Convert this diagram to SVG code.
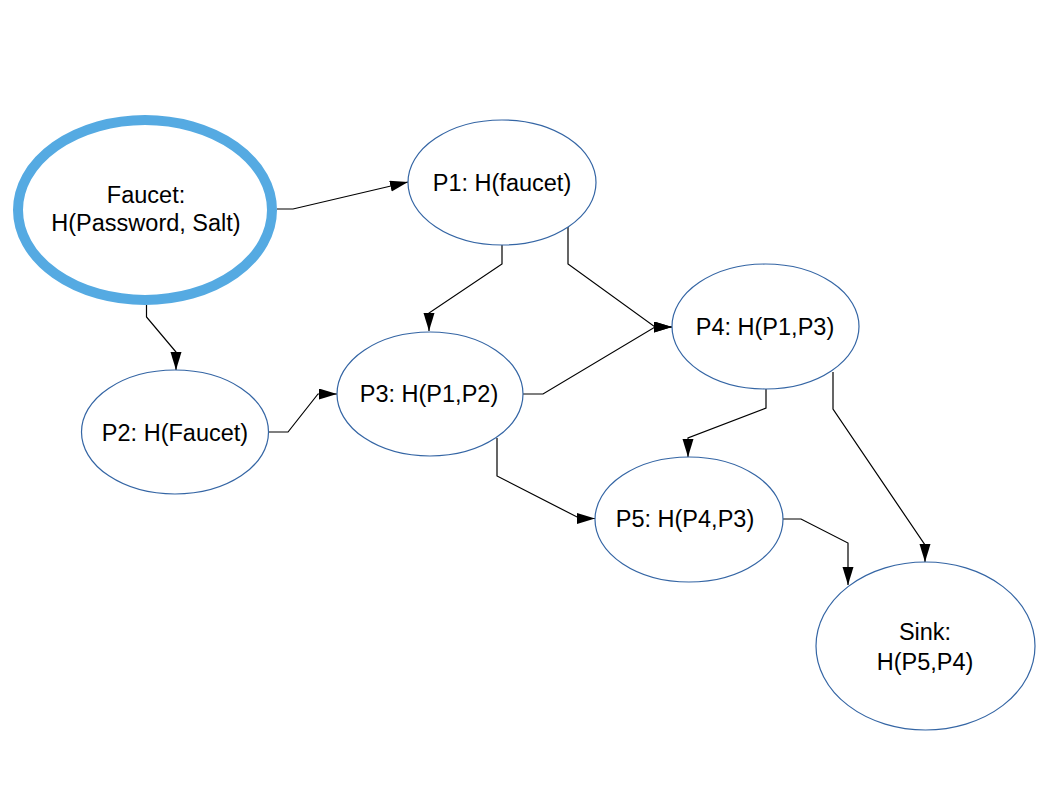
<svg xmlns="http://www.w3.org/2000/svg" width="1058" height="794" viewBox="0 0 1058 794">
<defs>
<style>
.node{fill:#ffffff;stroke:#3465a4;stroke-width:1.2}
.src{fill:#ffffff;stroke:#55aae2;stroke-width:10}
.lbl{font-family:"Liberation Sans",Arial,sans-serif;font-size:23.5px;fill:#000000;text-anchor:middle}
.edge{fill:none;stroke:#000000;stroke-width:1.2;marker-end:url(#arr)}
</style>
<marker id="arr" markerUnits="userSpaceOnUse" markerWidth="19" markerHeight="12" refX="18" refY="5.5" orient="auto">
<path d="M0,0 L18,5.5 L0,11 Z" fill="#000000"/>
</marker>
</defs>
<rect x="0" y="0" width="1058" height="794" fill="#ffffff"/>
<g id="connectors">
<path class="edge" d="M277,209 L293,209 L408,182"/>
<path class="edge" d="M146.5,305 L146.5,317 L176,352 L176,370"/>
<path class="edge" d="M269,432 L288,432 L318,394 L337,394"/>
<path class="edge" d="M502,245 L502,264 L429,313 L429,331"/>
<path class="edge" d="M568,227 L568,264 L655,327 L672,327"/>
<path class="edge" d="M523,394 L543,394 L655,327 L672,327"/>
<path class="edge" d="M766,389 L766,408 L688,438 L688,457"/>
<path class="edge" d="M497,438 L497,476 L580,518.5 L595,518.5"/>
<path class="edge" d="M833,372 L833,409 L925,545 L925,562"/>
<path class="edge" d="M783,519 L801,519 L848,543 L848,585"/>
</g>
<g id="faucet">
<ellipse class="src" cx="145" cy="210" rx="127" ry="90"/>
<text class="lbl" x="146" y="203">Faucet:</text>
<text class="lbl" x="146" y="231">H(Password, Salt)</text>
</g>
<g id="p1">
<ellipse class="node" cx="502" cy="182.5" rx="94" ry="62.5"/>
<text class="lbl" x="502" y="191">P1: H(faucet)</text>
</g>
<g id="p2">
<ellipse class="node" cx="175" cy="432" rx="93.5" ry="62"/>
<text class="lbl" x="175" y="441">P2: H(Faucet)</text>
</g>
<g id="p3">
<ellipse class="node" cx="430" cy="394" rx="93" ry="62"/>
<text class="lbl" x="429" y="402">P3: H(P1,P2)</text>
</g>
<g id="p4">
<ellipse class="node" cx="765.5" cy="326.5" rx="93.5" ry="62.5"/>
<text class="lbl" x="765" y="335">P4: H(P1,P3)</text>
</g>
<g id="p5">
<ellipse class="node" cx="689" cy="519.5" rx="94" ry="62.5"/>
<text class="lbl" x="685" y="527">P5: H(P4,P3)</text>
</g>
<g id="sink">
<ellipse class="node" cx="925.5" cy="646" rx="109.5" ry="84"/>
<text class="lbl" x="925" y="640">Sink:</text>
<text class="lbl" x="925" y="670">H(P5,P4)</text>
</g>
</svg>
